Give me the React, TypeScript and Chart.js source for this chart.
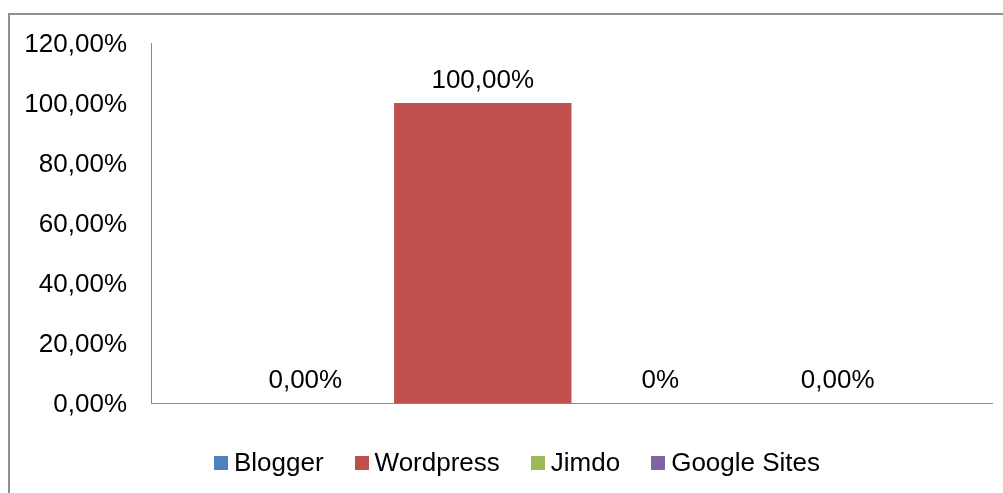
import React, { useEffect, useRef } from "react";
import { Chart, registerables } from "chart.js";

Chart.register(...registerables);

const categories = [""];
const seriesNames = ["Blogger", "Wordpress", "Jimdo", "Google Sites"];
const seriesValues = [[0], [100], [0], [0]];
const seriesLabels = ["0,00%", "100,00%", "0%", "0,00%"];
const seriesColors = ["#4F81BD", "#C0504D", "#9BBB59", "#8064A2"];
const yTicks = { min: 0, max: 120, step: 20 };

const FONT = "'Liberation Sans', Arial, sans-serif";

const dataLabelPlugin = {
  id: "dataLabels",
  afterDatasetsDraw(chart: any) {
    const ctx = chart.ctx;
    ctx.save();
    ctx.font = `26px ${FONT}`;
    ctx.fillStyle = "#000";
    ctx.textAlign = "center";
    ctx.textBaseline = "middle";
    chart.data.datasets.forEach((ds: any, i: number) => {
      const meta = chart.getDatasetMeta(i);
      meta.data.forEach((el: any) => {
        ctx.fillText(seriesLabels[i], el.x, el.y - 22);
      });
    });
    ctx.restore();
  },
};

const legendPlugin = {
  id: "customLegend",
  afterDraw(chart: any) {
    const ctx = chart.ctx;
    ctx.save();
    ctx.font = `26px ${FONT}`;
    ctx.textBaseline = "middle";
    ctx.textAlign = "left";
    const box = 14;
    const boxGap = 6;
    const itemGap = 31;
    const widths = chart.data.datasets.map((ds: any) => ctx.measureText(ds.label).width);
    const total =
      widths.reduce((a: number, b: number) => a + b, 0) +
      widths.length * (box + boxGap) +
      (widths.length - 1) * itemGap;
    const centerX = 517;
    const cy = 463;
    let x = centerX - total / 2;
    chart.data.datasets.forEach((ds: any, i: number) => {
      ctx.fillStyle = ds.backgroundColor;
      ctx.fillRect(Math.round(x), cy - box / 2, box, box);
      ctx.fillStyle = "#000";
      ctx.fillText(ds.label, x + box + boxGap, cy + 1);
      x += box + boxGap + widths[i] + itemGap;
    });
    ctx.restore();
  },
};

export default function App() {
  const ref = useRef<HTMLCanvasElement | null>(null);

  useEffect(() => {
    if (!ref.current) return;
    const chart = new Chart(ref.current, {
      type: "bar",
      data: {
        labels: categories,
        datasets: seriesNames.map((name, i) => ({
          label: name,
          data: seriesValues[i],
          backgroundColor: seriesColors[i],
          borderWidth: 0,
          categoryPercentage: 0.844,
          barPercentage: 1,
        })),
      },
      options: {
        responsive: false,
        animation: false,
        layout: { padding: { left: 0, right: 11, top: 43, bottom: 90 } },
        plugins: {
          legend: { display: false },
          tooltip: { enabled: false },
        },
        scales: {
          x: {
            ticks: { display: false },
            grid: { display: false, drawTicks: false },
            border: { display: true, color: "#8a8a8a", width: 1 },
            afterFit: (scale: any) => {
              scale.height = 0;
            },
          },
          y: {
            min: yTicks.min,
            max: yTicks.max,
            ticks: {
              stepSize: yTicks.step,
              padding: 24,
              labelOffset: 2,
              color: "#000",
              font: { family: FONT, size: 26 },
              callback: (v: any) => Number(v).toFixed(2).replace(".", ",") + "%",
            },
            grid: { display: false, drawTicks: false },
            border: { display: true, color: "#8a8a8a", width: 1 },
            afterFit: (scale: any) => {
              scale.width = 151;
            },
          },
        },
      },
      plugins: [dataLabelPlugin, legendPlugin],
    } as any);
    return () => chart.destroy();
  }, []);

  return (
    <div
      style={{
        position: "fixed",
        left: 0,
        top: 0,
        width: 1003,
        height: 493,
        overflow: "hidden",
        background: "#fff",
      }}
    >
      <div
        style={{
          position: "absolute",
          left: 8,
          top: 13,
          width: 1100,
          height: 600,
          borderTop: "2px solid #8f8f8f",
          borderLeft: "2px solid #8f8f8f",
        }}
      />
      <canvas
        ref={ref}
        width={1003}
        height={493}
        style={{ position: "absolute", left: 0, top: 0, width: 1003, height: 493 }}
      />
    </div>
  );
}
